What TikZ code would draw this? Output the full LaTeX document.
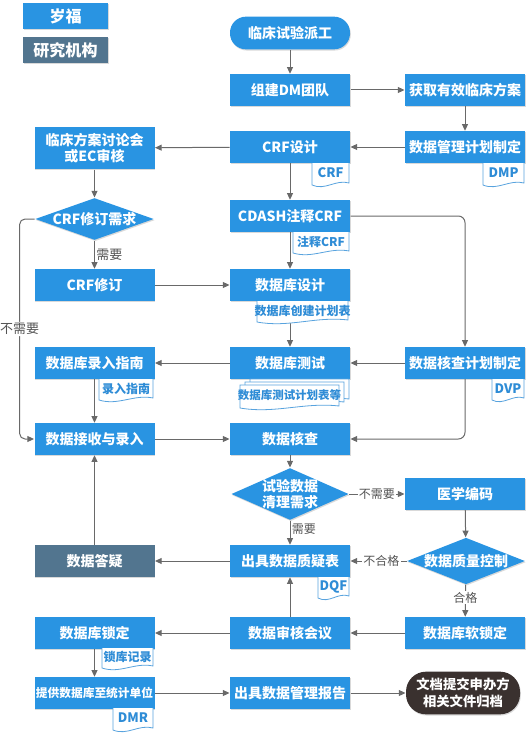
\documentclass[tikz,border=0pt]{standalone}
\usepackage{fontspec}
\setmainfont{Noto Sans CJK SC}
\usetikzlibrary{arrows.meta,shapes.geometric,shadows}

\definecolor{boxblue}{RGB}{41,148,226}
\definecolor{slate}{RGB}{82,117,143}
\definecolor{darkend}{RGB}{58,49,47}
\definecolor{linegray}{RGB}{105,105,105}
\definecolor{tagblue}{RGB}{46,140,214}

\tikzset{every picture/.style={line width=0.75pt}}
\tikzset{
  box/.style={rectangle, fill=boxblue, text=white, font=\bfseries\fontsize{10.5}{12.5}\selectfont,
    minimum width=90pt, minimum height=23.6pt, inner sep=1pt, align=center,
    drop shadow={shadow xshift=0.6pt, shadow yshift=-0.9pt, opacity=0.3}},
  slatebox/.style={box, fill=slate},
  legendbox/.style={box, minimum width=64pt, minimum height=19.5pt, font=\bfseries\fontsize{12}{14}\selectfont},
  dia/.style={diamond, fill=boxblue, inner sep=0pt, aspect=1,
    drop shadow={shadow xshift=0.6pt, shadow yshift=-0.9pt, opacity=0.3}},
  diatext/.style={text=white, font=\bfseries\fontsize{10.5}{12.5}\selectfont, align=center, inner sep=0pt},
  conn/.style={draw=linegray, line width=0.75pt, -{Triangle[length=5pt,width=4.5pt]}},
  lbl/.style={font=\fontsize{9}{10}\selectfont, text=linegray!80!black, fill=white, inner sep=1pt},
  tagline/.style={draw=tagblue!80, fill=white, line width=0.6pt},
  tagtext/.style={text=tagblue, font=\bfseries\fontsize{9}{10}\selectfont, inner sep=0pt},
  taglatin/.style={font=\bfseries\fontsize{9.8}{10}\selectfont},
}

% wavy bottom of a document tag, open at the top
\newcommand{\docwave}[4]{%
  \draw[tagline] (#1,#2) -- (#1,#4) .. controls ({#1+(#3-#1)*0.35},{#4+6}) and ({#3-(#3-#1)*0.35},{#4-6}) .. (#3,{#4-2}) -- (#3,#2);
}
% closed document page (for the stacked one)
\newcommand{\docpage}[4]{%
  \draw[tagline] (#1,#2) -- (#1,#4) .. controls ({#1+(#3-#1)*0.35},{#4+6}) and ({#3-(#3-#1)*0.35},{#4-6}) .. (#3,{#4-2}) -- (#3,#2) -- cycle;
}
% tag with its text
\newcommand{\tagtext}[7][]{%
  \docwave{#3}{#4}{#5}{#6}%
  \node[tagtext,#1] (#2) at ({(#3+#5)/2},{(#4+#6)/2-1}) {#7};
}

\begin{document}
\begin{tikzpicture}[x=0.75pt,y=0.75pt,yscale=-1,xscale=1]
	\path[use as bounding box] (0,0) rectangle (527,735);
	
	% Legend
	\node[legendbox] (lgdsf) at (65.5,16) {岁福};
	\node[legendbox, fill=slate] (lgdorg) at (65.5,50) {研究机构};
	
	% Start
	\node[box, rounded corners=12pt, minimum height=24.5pt] (start) at (290,33) {临床试验派工};
	
	% Boxes, middle column
	\node[box] (dmteam) at (290,90) {组建DM团队};
	\node[box] (crf) at (290,147) {CRF设计};
	\node[box] (cdash) at (290,216) {CDASH注释CRF};
	\node[box] (dbdesign) at (290,285) {数据库设计};
	\node[box] (dbtest) at (290,363) {数据库测试};
	\node[box] (check) at (290,439) {数据核查};
	\node[dia, minimum width=88pt, minimum height=39pt, label={[diatext]center:试验数据\\清理需求}] (cleanreq) at (290,494) {};
	\node[box] (dqf) at (290,561) {出具数据质疑表};
	\node[box] (review2) at (290,633) {数据审核会议};
	\node[box] (report) at (290,693) {出具数据管理报告};
	
	% Boxes, right column
	\node[box] (protocol) at (465,90) {获取有效临床方案};
	\node[box] (dmp) at (465,147) {数据管理计划制定};
	\node[box] (dvp) at (465,363) {数据核查计划制定};
	\node[box] (coding) at (465,494) {医学编码};
	\node[dia, minimum width=88.5pt, minimum height=35pt, label={[diatext]center:数据质量控制}] (qc) at (466,561) {};
	\node[box] (softlock) at (465,633) {数据库软锁定};
	\node[box, fill=darkend, rounded corners=15pt, minimum width=85.5pt, minimum height=32pt,
	  font=\bfseries\fontsize{10}{12.5}\selectfont] (archive) at (463,693) {文档提交申办方\\相关文件归档};
	
	% Boxes, left column
	\node[box, minimum height=31.5pt] (review) at (94.5,148) {临床方案讨论会\\或EC审核};
	\node[dia, minimum width=89pt, minimum height=31.5pt, label={[diatext]center:CRF修订需求}] (crfreq) at (94.5,219) {};
	\node[box] (crfrev) at (94.5,285) {CRF修订};
	\node[box] (guide) at (94.5,363) {数据库录入指南};
	\node[box] (entry) at (94.5,439) {数据接收与录入};
	\node[slatebox] (query) at (94.5,561) {数据答疑};
	\node[box] (lock) at (94.5,633) {数据库锁定};
	\node[box, font=\bfseries\fontsize{8.8}{10}\selectfont] (transfer) at (94.5,693) {提供数据库至统计单位};
	
	% Connectors
	\draw[conn] (start) -- (dmteam);
	\draw[conn] (dmteam) -- (protocol);
	\draw[conn] (protocol) -- (dmp);
	\draw[conn] (dmp) -- (crf);
	\draw[conn] (crf) -- (review);
	\draw[conn] (review) -- (crfreq);
	\draw[conn] (crfreq) -- node[lbl, right, fill=none, font=\fontsize{9.75}{11}\selectfont] {需要} (crfrev);
	\draw[conn, rounded corners=4pt] (crfreq.west) -- ++(-15,0) |- node[pos=0.25, lbl, font=\fontsize{9.75}{11}\selectfont] {不需要} (entry.west);
	\draw[conn] (crfrev) -- (dbdesign);
	\draw[conn] (crf) -- (cdash);
	\draw[conn, rounded corners=5pt] (cdash.east) -| (dvp.north);
	\draw[conn] (cdash) -- (dbdesign);
	\draw[conn] (dbdesign) -- (dbtest);
	\draw[conn] (dvp) -- (dbtest);
	\draw[conn] (dbtest) -- (guide);
	\draw[conn] (guide) -- (entry);
	\draw[conn] (entry) -- (check);
	\draw[conn, rounded corners=5pt] (dvp.south) |- (check.east);
	\draw[conn] (check) -- (cleanreq);
	\draw[conn] (cleanreq) -- node[lbl] {不需要} (coding);
	\draw[conn] (cleanreq) -- node[lbl, right, fill=none, pos=0.35] {需要} (dqf);
	\draw[conn] (coding) -- (qc);
	\draw[conn] (qc) -- node[lbl, pos=0.45] {不合格} (dqf);
	\draw[conn] (qc) -- node[lbl, pos=0.4] {合格} (softlock);
	\draw[conn] (dqf) -- (query);
	\draw[conn] (query) -- (entry);
	\draw[conn] (softlock) -- (review2);
	\draw[conn] (review2) -- (dqf);
	\draw[conn] (review2) -- (lock);
	\draw[conn] (lock) -- (transfer);
	\draw[conn] (transfer) -- (report);
	\draw[conn] (report) -- (archive);
	
	% Document tags
	\tagtext[taglatin]{tcrf}{312}{163}{349}{185}{CRF}
	\tagtext[taglatin]{tdmp}{483}{163}{524}{185}{DMP}
	\tagtext{tcdash}{293}{232}{349}{253}{注释CRF}
	\tagtext[font=\bfseries\fontsize{9}{10}\selectfont]{tdbplan}{257}{301}{348}{322}{数据库创建计划表}
	\tagtext{tguide}{99}{379}{153}{400}{录入指南}
	\docpage{250}{379}{349}{401}
	\docpage{245}{382}{344}{404}
	\docpage{240}{385}{339}{408}
	\node[tagtext, font=\bfseries\fontsize{8.6}{10}\selectfont] (ttest) at (289.5,395.5) {数据库测试计划表等};
	\tagtext[taglatin]{tdvp}{492}{379}{524}{400}{DVP}
	\tagtext[taglatin]{tdqf}{318}{577}{349}{598}{DQF}
	\tagtext{tlock}{102}{648}{153}{668}{锁库记录}
	\tagtext[taglatin]{tdmr}{113}{708}{153}{730}{DMR}
	
\end{tikzpicture}
\end{document}
